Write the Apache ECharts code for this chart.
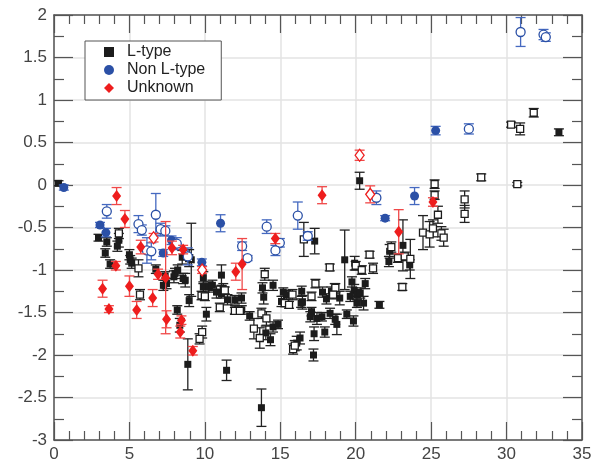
<!DOCTYPE html>
<html>
<head>
<meta charset="utf-8">
<script src="https://cdn.jsdelivr.net/npm/echarts@6/dist/echarts.min.js"></script>
<style>html,body{margin:0;padding:0;background:#fff}#c{width:611px;height:466px}</style>
</head>
<body>
<div id="c"></div>
<script>
// [x, y, error]
const lFilled = [
[0.3,0.02,0.03],[2.95,-0.62,0.04],[3.5,-0.67,0.05],[4.3,-0.65,0.08],[4.2,-0.72,0.06],[3.4,-0.80,0.05],
[3.72,-0.93,0.05],[5.0,-0.82,0.06],[5.05,-0.88,0.05],[5.15,-0.92,0.06],[8.5,-0.85,0.08],[9.1,-0.88,0.43],
[7.25,-1.18,0.06],[7.95,-1.08,0.07],[8.02,-1.04,0.06],[8.56,-1.10,0.06],[8.7,-1.12,0.08],[7.46,-1.16,0.06],
[8.96,-1.36,0.07],[8.17,-1.47,0.05],[8.34,-1.65,0.08],[8.87,-2.11,0.3],[9.9,-1.09,0.07],[9.9,-1.2,0.06],
[10.25,-1.2,0.06],[10.5,-1.18,0.06],[10.77,-1.26,0.07],[11.1,-1.06,0.12],[11.1,-1.28,0.05],[11.22,-1.22,0.06],
[11.5,-1.35,0.06],[11.99,-1.35,0.05],[12.43,-1.33,0.06],[10.1,-1.52,0.08],[11.44,-2.18,0.12],[13.75,-2.62,0.22],
[12.0,-1.47,0.05],[12.45,-1.47,0.05],[12.97,-1.54,0.05],[13.82,-1.21,0.06],[13.9,-1.32,0.08],[14.52,-1.18,0.06],
[14.04,-1.74,0.08],[14.35,-1.82,0.07],[14.52,-1.67,0.06],[14.85,-1.64,0.05],[15.2,-1.26,0.05],[15.41,-1.29,0.05],
[15.08,-1.37,0.06],[16.42,-1.25,0.06],[16.47,-1.38,0.08],[16.38,-1.39,0.05],[17.28,-0.66,0.15],[17.8,-1.26,0.06],
[18.06,-1.34,0.06],[18.39,-1.25,0.05],[18.61,-1.22,0.06],[18.94,-1.33,0.08],[17.07,-1.49,0.05],[16.99,-1.55,0.06],
[17.43,-1.57,0.07],[17.76,-1.55,0.05],[18.3,-1.51,0.06],[18.64,-1.58,0.06],[18.75,-1.64,0.12],[19.41,-1.52,0.05],
[19.85,-1.6,0.06],[17.24,-1.75,0.08],[17.95,-1.73,0.06],[17.2,-2.0,0.07],[16.09,-1.86,0.08],[16.31,-1.8,0.07],
[19.27,-0.88,0.35],[19.93,-0.92,0.08],[19.75,-1.14,0.06],[19.9,-1.24,0.07],[20.08,-1.29,0.06],[20.3,-1.27,0.06],
[20.52,-1.39,0.08],[19.64,-1.31,0.06],[20.63,-1.16,0.06],[20.08,-1.39,0.05],[21.57,-1.41,0.04],[20.26,0.05,0.1],
[22.25,-0.78,0.08],[22.2,-0.9,0.06],[23.13,-0.71,0.3],[23.58,-0.94,0.06],[33.47,0.62,0.04],
[6.75,-0.99,0.05],[8.2,-1.0,0.06],[7.37,-1.07,0.05]
];
const lOpen = [
[4.3,-0.57,0.06],[5.6,-0.98,0.1],[5.7,-1.29,0.06],[8.96,-0.86,0.1],[9.78,-1.3,0.05],[10.0,-1.31,0.05],
[10.99,-1.44,0.05],[11.32,-1.24,0.04],[9.82,-1.73,0.07],[9.65,-1.81,0.06],[11.99,-1.48,0.04],[12.32,-1.48,0.04],
[13.25,-1.69,0.12],[13.64,-1.8,0.12],[13.75,-1.51,0.06],[14.08,-1.57,0.08],[13.97,-1.05,0.07],[15.3,-1.39,0.04],
[15.58,-1.41,0.04],[15.81,-1.29,0.06],[17.07,-1.31,0.05],[17.33,-1.16,0.05],[15.85,-1.93,0.06],[15.96,-1.89,0.06],
[16.56,-0.64,0.2],[18.28,-0.97,0.04],[18.65,-1.21,0.05],[18.5,-1.29,0.05],[20.92,-0.82,0.04],[21.15,-0.98,0.06],
[20.0,-0.95,0.05],[20.4,-1.0,0.05],[22.36,-0.73,0.06],[22.8,-0.86,0.05],[23.25,-0.84,0.05],[23.62,-0.87,0.23],
[23.09,-1.2,0.04],[24.46,-0.56,0.2],[24.9,-0.58,0.15],[25.12,-0.51,0.1],[25.23,0.01,0.05],[25.23,-0.12,0.05],
[25.45,-0.35,0.1],[25.68,-0.57,0.08],[25.83,-0.62,0.1],[27.22,-0.17,0.1],[27.22,-0.34,0.1],[28.32,0.09,0.04],
[30.71,0.01,0.02],[30.3,0.71,0.03],[30.9,0.66,0.07],[31.8,0.85,0.05]
];
const nFilled = [
[0.65,-0.03,0.03],[3.05,-0.47,0.03],[3.44,-0.56,0.05],[7.24,-0.80,0.04],[7.79,-0.65,0.05],[9.8,-0.91,0.04],
[11.04,-0.45,0.1],[21.95,-0.39,0.03],[23.9,-0.13,0.1],[25.3,0.64,0.05]
];
const nOpen = [
[3.5,-0.31,0.08],[5.6,-0.46,0.1],[5.82,-0.53,0.06],[6.75,-0.35,0.25],[6.16,-0.77,0.15],[6.45,-0.78,0.1],
[7.07,-0.52,0.07],[7.38,-0.54,0.06],[8.14,-0.69,0.07],[8.87,-0.84,0.1],[12.47,-0.72,0.05],[12.83,-0.86,0.03],
[14.1,-0.49,0.08],[14.97,-0.68,0.05],[14.68,-0.77,0.06],[16.16,-0.36,0.16],[16.82,-0.6,0.05],[21.37,-0.15,0.08],
[27.5,0.66,0.06],[30.93,1.80,0.17],[32.45,1.77,0.06],[32.6,1.74,0.05]
];
const uFilled = [
[4.15,-0.13,0.1],[4.7,-0.40,0.1],[4.1,-0.95,0.05],[5.75,-0.73,0.08],[7.82,-0.74,0.08],[8.56,-0.76,0.05],
[6.9,-1.05,0.06],[7.4,-1.09,0.66],[3.22,-1.22,0.1],[5.0,-1.19,0.12],[6.54,-1.33,0.1],[3.64,-1.46,0.04],
[5.48,-1.47,0.1],[7.46,-1.58,0.1],[8.45,-1.59,0.05],[8.37,-1.73,0.07],[9.2,-1.95,0.05],[12.47,-0.93,0.3],
[12.05,-1.02,0.1],[14.67,-0.63,0.06],[17.77,-0.12,0.1],[22.85,-0.55,0.26],[25.12,-0.2,0.05]
];
const uOpen = [
[6.6,-0.62,0.05],[9.82,-1.0,0.04],[20.26,0.35,0.06],[20.96,-0.11,0.1]
];
const seriesNames = ['L-type','Non L-type','Unknown'];

const C_L = '#1c1c1c', C_N = '#2b50a6', C_U = '#ee1d1d';
const E_L = '#222222', E_N = '#4569c0', E_U = '#f04848';
const FONT = 'Liberation Sans, Arial, Helvetica, sans-serif';

function errSeries(name, data, color, z){
  return {
    type:'custom', name:name, silent:true, z:z, clip:true,
    data: data.map(d => [d[0], d[1]-d[2], d[1]+d[2]]),
    encode:{x:0, y:[1,2]},
    renderItem:function(params, api){
      const lo = api.coord([api.value(0), api.value(1)]);
      const hi = api.coord([api.value(0), api.value(2)]);
      const hw = 5;
      const st = {stroke:color, lineWidth:1.3, fill:null};
      return {type:'group', children:[
        {type:'line', shape:{x1:lo[0],y1:lo[1],x2:hi[0],y2:hi[1]}, style:st},
        {type:'line', shape:{x1:lo[0]-hw,y1:lo[1],x2:lo[0]+hw,y2:lo[1]}, style:st},
        {type:'line', shape:{x1:hi[0]-hw,y1:hi[1],x2:hi[0]+hw,y2:hi[1]}, style:st}
      ]};
    }
  };
}
function pts(name, data, symbol, size, color, open, z){
  return {
    type:'scatter', name:name, z:z, symbol:symbol, symbolSize:size, clip:true,
    data: data.map(d => [d[0], d[1]]),
    itemStyle: open ? {color:'#ffffff', borderColor:color, borderWidth:1.3, opacity:1}
                    : {color:color, opacity:1},
    emphasis:{disabled:true}
  };
}

const axisLine = {show:true, onZero:false, lineStyle:{color:'#555', width:1.5}};
const tickStyle = {color:'#555', width:1.2};

const option = {
  animation:false,
  backgroundColor:'#fff',
  grid:{left:54, right:29, top:15, bottom:26},
  legend:{
    data: seriesNames,
    orient:'vertical', left:85, top:41,
    backgroundColor:'#fff', borderColor:'#555', borderWidth:1,
    padding:[2,16,3,19], itemGap:0, itemWidth:10, itemHeight:10,
    textStyle:{fontFamily:FONT, fontSize:16, lineHeight:18, color:'#222', padding:[0,0,0,8]}
  },
  xAxis:[
    {type:'value', min:0, max:35, interval:5, position:'bottom',
     axisLine:axisLine,
     axisTick:{show:true, inside:true, length:18, lineStyle:tickStyle},
     minorTick:{show:true, splitNumber:5, length:9, lineStyle:tickStyle},
     splitLine:{show:true, lineStyle:{color:'#e3e3e3', width:1.5}},
     axisLabel:{fontFamily:FONT, fontSize:17, color:'#444', margin:6}},
    {type:'value', min:0, max:35, interval:5, position:'top',
     axisLine:axisLine,
     axisTick:{show:true, inside:true, length:18, lineStyle:tickStyle},
     minorTick:{show:true, splitNumber:5, length:9, lineStyle:tickStyle},
     splitLine:{show:false}, axisLabel:{show:false}}
  ],
  yAxis:[
    {type:'value', min:-3, max:2, interval:0.5, position:'left',
     axisLine:axisLine,
     axisTick:{show:true, inside:true, length:19, lineStyle:tickStyle},
     minorTick:{show:true, splitNumber:2, length:10, lineStyle:tickStyle},
     splitLine:{show:true, lineStyle:{color:'#e3e3e3', width:1.5}},
     axisLabel:{fontFamily:FONT, fontSize:17, color:'#444', margin:7}},
    {type:'value', min:-3, max:2, interval:0.5, position:'right',
     axisLine:axisLine,
     axisTick:{show:true, inside:true, length:19, lineStyle:tickStyle},
     minorTick:{show:true, splitNumber:2, length:10, lineStyle:tickStyle},
     splitLine:{show:false}, axisLabel:{show:false}}
  ],
  series:[
    errSeries('L-type err', lFilled, E_L, 2),
    errSeries('L-type open err', lOpen, E_L, 2),
    pts('L-type', lFilled, 'rect', 7, C_L, false, 3),
    pts('L-type open', lOpen, 'rect', 7, C_L, true, 3),
    errSeries('Non L-type err', nFilled, E_N, 4),
    errSeries('Non L-type open err', nOpen, E_N, 4),
    pts('Non L-type', nFilled, 'circle', 9, C_N, false, 5),
    pts('Non L-type open', nOpen, 'circle', 9, C_N, true, 5),
    errSeries('Unknown err', uFilled, E_U, 6),
    errSeries('Unknown open err', uOpen, E_U, 6),
    pts('Unknown', uFilled, 'diamond', [9,12], C_U, false, 7),
    pts('Unknown open', uOpen, 'diamond', [9,12], C_U, true, 7)
  ]
};
const chart = echarts.init(document.getElementById('c'), null, {renderer:'canvas'});
chart.setOption(option);
</script>
</body>
</html>
